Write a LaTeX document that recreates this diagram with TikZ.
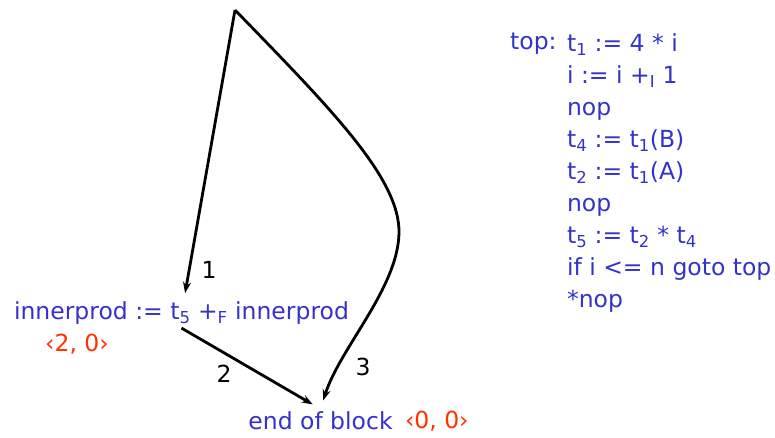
\documentclass[tikz,border=0pt]{standalone}
\usepackage{fontspec}
\setmainfont{DejaVu Sans}
\usepackage{xcolor}
\usepackage{tikz}
\usetikzlibrary{arrows.meta}
\definecolor{codeblue}{HTML}{3333CC}
\definecolor{valred}{HTML}{FF3300}
\tikzset{every node/.append style={font=\fontsize{23.5}{32}\selectfont},
  stmt/.style={text=codeblue,inner sep=3pt},
  val/.style={text=valred,inner sep=3pt},
  flow/.style={->,line width=2.8pt},
  lbl/.style={text=black}}
\newcommand{\lo}[1]{\textsubscript{#1}}

\begin{document}
\begin{tikzpicture}[x=1pt,y=1pt,>={Stealth[length=11pt,width=8pt]}]
  \useasboundingbox (0,0) rectangle (775,438);
  \coordinate (apex) at (235,428);
  \node[stmt,anchor=base] (inner) at (181.5,118) {innerprod := t\lo{5} +\lo{F} innerprod};
  \node[val,anchor=base] (innerval) at (77,86) {‹2, 0›};
  \node[stmt,anchor=base] (endblk) at (320.5,8) {end of block};
  \node[val,anchor=west,xshift=6pt] (endval) at (endblk.east) {‹0, 0›};
  % listing
  \node[stmt,anchor=base west] (toplbl) at (507,388) {top:};
  \node[stmt,anchor=north west,xshift=4pt] (code) at (toplbl.north east) [align=left] {%
    t\lo{1} := 4 * i\\
    i := i +\lo{I} 1\\
    nop\\
    t\lo{4} := t\lo{1}(B)\\
    t\lo{2} := t\lo{1}(A)\\
    nop\\
    t\lo{5} := t\lo{2} * t\lo{4}\\
    if i <= n goto top\\
    *nop};
  % edges
  \draw[flow,shorten >=6pt] (apex) -- (inner);
  \draw[flow,shorten >=9pt] (inner.south) -- (endblk.north);
  \draw[flow,shorten >=9pt] (apex) .. controls (330,330) and (400,260) .. (399,205)
    .. controls (398,150) and (340,90) .. (endblk.north);
  \node[lbl] (lbl1) at (209,168) {1};
  \node[lbl] (lbl2) at (224,64) {2};
  \node[lbl] (lbl3) at (363,71) {3};
\end{tikzpicture}
\end{document}
